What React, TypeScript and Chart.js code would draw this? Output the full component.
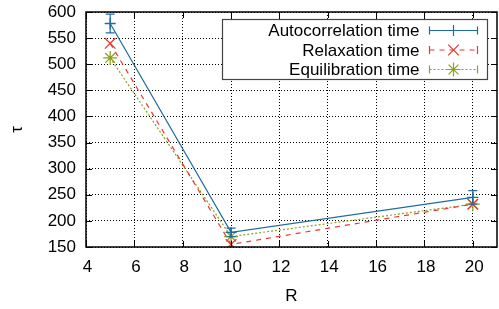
import { useEffect, useRef } from 'react';
import { Chart, registerables } from 'chart.js';
Chart.register(...registerables);

const R = [5, 10, 20];
const autocorrelation = [578, 178, 245];
const autocorrelationErr = [18, 8, 13];
const relaxation = [540, 155, 232];
const equilibration = [512, 170, 232];
const xTicks = [4, 6, 8, 10, 12, 14, 16, 18, 20];
const yTicks = [150, 200, 250, 300, 350, 400, 450, 500, 550, 600];
const seriesNames = ['Autocorrelation time', 'Relaxation time', 'Equilibration time'];
const xTitle = 'R';
const yTitle = 'τ';

const COLORS = ['#1e6c9e', '#f03434', '#8ca21e'];
const DASHES: number[][] = [[], [5, 5], [2, 2]];
const STYLES = ['cross', 'crossRot', 'star'];
const RADII = [5.5, 7.5, 7];
const FONT = '"Liberation Sans", Arial, sans-serif';
const FS = 17;

function drawMarker(ctx: CanvasRenderingContext2D, style: string, x: number, y: number, r: number) {
  ctx.beginPath();
  if (style === 'cross' || style === 'star') {
    ctx.moveTo(x - r, y); ctx.lineTo(x + r, y);
    ctx.moveTo(x, y - r); ctx.lineTo(x, y + r);
  }
  if (style === 'crossRot' || style === 'star') {
    const d = r * Math.SQRT1_2;
    ctx.moveTo(x - d, y - d); ctx.lineTo(x + d, y + d);
    ctx.moveTo(x - d, y + d); ctx.lineTo(x + d, y - d);
  }
  ctx.stroke();
}

const errorBarPlugin = {
  id: 'errorBars',
  afterDatasetsDraw(chart: any) {
    const { ctx, scales } = chart;
    const xs = scales.x, ys = scales.y;
    ctx.save();
    ctx.strokeStyle = COLORS[0];
    ctx.lineWidth = 1.2;
    ctx.setLineDash([]);
    R.forEach((r, i) => {
      const x = xs.getPixelForValue(r);
      const y1 = ys.getPixelForValue(autocorrelation[i] + autocorrelationErr[i]);
      const y2 = ys.getPixelForValue(autocorrelation[i] - autocorrelationErr[i]);
      ctx.beginPath();
      ctx.moveTo(x, y1); ctx.lineTo(x, y2);
      ctx.moveTo(x - 4.5, y1); ctx.lineTo(x + 4.5, y1);
      ctx.moveTo(x - 4.5, y2); ctx.lineTo(x + 4.5, y2);
      ctx.stroke();
    });
    ctx.restore();
  },
};

const framePlugin = {
  id: 'frame',
  afterDraw(chart: any) {
    const { ctx, chartArea: a, scales } = chart;
    ctx.save();
    ctx.strokeStyle = '#000';
    ctx.lineWidth = 1.5;
    ctx.setLineDash([]);
    ctx.strokeRect(a.left, a.top, a.right - a.left, a.bottom - a.top);
    ctx.lineWidth = 1;
    ctx.beginPath();
    const tl = 6;
    xTicks.forEach((v) => {
      const x = Math.round(scales.x.getPixelForValue(v)) + 0.5;
      ctx.moveTo(x, a.bottom); ctx.lineTo(x, a.bottom - tl);
      ctx.moveTo(x, a.top); ctx.lineTo(x, a.top + tl);
    });
    yTicks.forEach((v) => {
      const y = Math.round(scales.y.getPixelForValue(v)) + 0.5;
      ctx.moveTo(a.left, y); ctx.lineTo(a.left + tl, y);
      ctx.moveTo(a.right, y); ctx.lineTo(a.right - tl, y);
    });
    ctx.stroke();

    // legend
    const right = a.right - 9.5;
    const top = a.top + 7.5;
    const w = 265, h = 60;
    ctx.fillStyle = '#fff';
    ctx.fillRect(right - w, top, w, h);
    ctx.strokeStyle = '#444';
    ctx.lineWidth = 1.2;
    ctx.strokeRect(right - w, top, w, h);
    ctx.font = `${FS}px ${FONT}`;
    ctx.textAlign = 'right';
    ctx.textBaseline = 'middle';
    seriesNames.forEach((name, i) => {
      const cy = top + 11 + i * 19.5;
      ctx.fillStyle = '#000';
      ctx.fillText(name, right - 68, cy + 1);
      const sx1 = right - 58, sx2 = right - 10;
      ctx.strokeStyle = COLORS[i];
      ctx.lineWidth = 1.2;
      ctx.setLineDash(DASHES[i]);
      ctx.beginPath();
      ctx.moveTo(sx1, cy); ctx.lineTo(sx2, cy);
      ctx.stroke();
      ctx.setLineDash([]);
      ctx.beginPath();
      ctx.moveTo(sx1, cy - 4); ctx.lineTo(sx1, cy + 4);
      ctx.moveTo(sx2, cy - 4); ctx.lineTo(sx2, cy + 4);
      ctx.stroke();
      drawMarker(ctx, STYLES[i], (sx1 + sx2) / 2, cy, RADII[i]);
    });
    ctx.restore();
  },
};

export default function App() {
  const ref = useRef<HTMLCanvasElement | null>(null);
  useEffect(() => {
    document.body.style.margin = '0';
    const canvas = ref.current!;
    const series = [autocorrelation, relaxation, equilibration];
    const chart = new Chart(canvas, {
      type: 'line',
      data: {
        datasets: series.map((vals, i) => ({
          label: seriesNames[i],
          data: R.map((r, j) => ({ x: r, y: vals[j] })),
          borderColor: COLORS[i],
          backgroundColor: COLORS[i],
          borderWidth: 1.2,
          borderDash: DASHES[i],
          pointStyle: STYLES[i] as any,
          pointRadius: RADII[i],
          pointBorderWidth: 1.3,
          pointBorderColor: COLORS[i],
          fill: false,
          tension: 0,
        })),
      },
      options: {
        animation: false,
        responsive: false,
        devicePixelRatio: 1,
        layout: { autoPadding: false, padding: { top: 12, right: 2, left: 0, bottom: 0 } },
        plugins: { legend: { display: false }, tooltip: { enabled: false } },
        scales: {
          x: {
            type: 'linear',
            min: 4,
            max: 21,
            afterBuildTicks: (s: any) => { s.ticks = xTicks.map((v) => ({ value: v })); },
            afterFit: (s: any) => { s.height = 62; s.paddingLeft = 0; s.paddingRight = 0; },
            ticks: { color: '#000', font: { family: FONT, size: FS }, padding: 10, maxRotation: 0, labelOffset: 1.5 },
            grid: { color: '#000', lineWidth: 1, drawTicks: false },
            border: { display: false, dash: [1, 2] },
            title: { display: true, text: xTitle, color: '#000', font: { family: FONT, size: FS }, padding: { top: 0, bottom: 2 } },
          },
          y: {
            type: 'linear',
            min: 150,
            max: 600,
            afterBuildTicks: (s: any) => { s.ticks = yTicks.map((v) => ({ value: v })); },
            afterFit: (s: any) => { s.width = 86; s.paddingTop = 0; s.paddingBottom = 0; },
            ticks: { color: '#000', font: { family: FONT, size: FS }, padding: 10 },
            grid: { color: '#000', lineWidth: 1, drawTicks: false },
            border: { display: false, dash: [1, 2] },
            title: { display: true, text: yTitle, color: '#000', font: { family: FONT, size: FS }, padding: { top: 7, bottom: 0 } },
          },
        },
      },
      plugins: [errorBarPlugin, framePlugin],
    });
    return () => chart.destroy();
  }, []);
  return (
    <div style={{ width: 499, height: 309 }}>
      <canvas ref={ref} width={499} height={309} style={{ display: 'block' }} />
    </div>
  );
}
